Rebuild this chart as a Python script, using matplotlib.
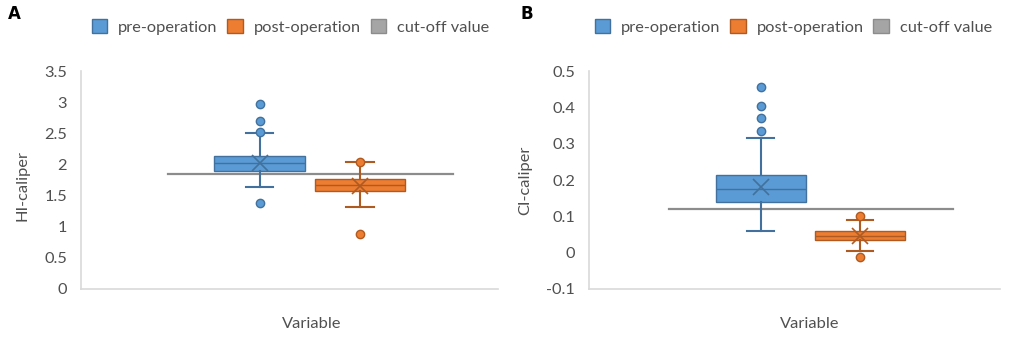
import matplotlib
matplotlib.use("Agg")
import matplotlib.pyplot as plt
from matplotlib.patches import Patch

plt.rcParams['font.family'] = ['Lato', 'DejaVu Sans']

# panel A: HI-caliper (q1, median, q3, whisker low/high, mean, outliers)
hi_pre = dict(q1=1.89, med=2.02, q3=2.14, whislo=1.64, whishi=2.50, mean=2.03,
              fliers=[2.97, 2.69, 2.52, 1.38])
hi_post = dict(q1=1.57, med=1.67, q3=1.76, whislo=1.32, whishi=2.04, mean=1.66,
               fliers=[2.04, 0.89])
hi_cutoff = 1.85

# panel B: CI-caliper
ci_pre = dict(q1=0.140, med=0.175, q3=0.214, whislo=0.060, whishi=0.316, mean=0.182,
              fliers=[0.455, 0.405, 0.370, 0.335])
ci_post = dict(q1=0.034, med=0.047, q3=0.060, whislo=0.004, whishi=0.089, mean=0.047,
               fliers=[0.101, -0.011])
ci_cutoff = 0.12

series_names = ['pre-operation', 'post-operation', 'cut-off value']
face_cols = ['#5b9bd5', '#ed7d31']
edge_cols = ['#41719c', '#ae5a21']
cut_col = '#8c8c8c'
txt_col = '#505050'
spine_col = '#d9d9d9'
fs = 11.8


def draw_panel(ax, stats, cutoff, pos, cut_span, ylim, yticks, ylabel):
    for s, p, fc, ec in zip(stats, pos, face_cols, edge_cols):
        st = dict(s)
        st['label'] = ''
        ax.bxp([st], positions=[p], widths=0.218, showmeans=True, patch_artist=True,
               boxprops=dict(facecolor=fc, edgecolor=ec, linewidth=1.0),
               medianprops=dict(color=ec, linewidth=1.0),
               whiskerprops=dict(color=ec, linewidth=1.5),
               capprops=dict(color=ec, linewidth=1.5),
               capwidths=0.065,
               meanprops=dict(marker='x', markeredgecolor=ec, markersize=11, markeredgewidth=1.2),
               flierprops=dict(marker='o', markerfacecolor=fc, markeredgecolor=ec,
                               markersize=6, markeredgewidth=1))
    ax.plot(cut_span, [cutoff, cutoff], color=cut_col, lw=1.6, zorder=1.5)
    ax.set_xlim(0, 1)
    ax.set_ylim(*ylim)
    ax.set_yticks(yticks)
    ax.set_yticklabels([('%g' % t) for t in yticks])
    ax.set_xticks([])
    for side in ['top', 'right']:
        ax.spines[side].set_visible(False)
    for side in ['left', 'bottom']:
        ax.spines[side].set_color(spine_col)
        ax.spines[side].set_linewidth(1.2)
    ax.tick_params(axis='y', length=0, pad=10, labelsize=fs, labelcolor=txt_col)
    ax.set_ylabel(ylabel, fontsize=fs, color=txt_col)
    ax.set_xlabel('Variable', fontsize=fs, color=txt_col)


fig = plt.figure(figsize=(10.21, 3.39), dpi=100)
axA = fig.add_axes([0.0793, 0.1475, 0.4085, 0.643])
axB = fig.add_axes([0.5769, 0.1475, 0.4026, 0.643])

draw_panel(axA, [hi_pre, hi_post], hi_cutoff, [0.429, 0.669], [0.209, 0.892],
           (0, 3.5), [0, 0.5, 1, 1.5, 2, 2.5, 3, 3.5], 'HI-caliper')
draw_panel(axB, [ci_pre, ci_post], ci_cutoff, [0.418, 0.659], [0.195, 0.886],
           (-0.1, 0.5), [-0.1, 0, 0.1, 0.2, 0.3, 0.4, 0.5], 'CI-caliper')

axA.yaxis.set_label_coords(-0.123, 0.477)
axB.yaxis.set_label_coords(-0.137, 0.5)
axA.xaxis.set_label_coords(0.554, -0.13)
axB.xaxis.set_label_coords(0.538, -0.13)

handles = [Patch(facecolor=face_cols[0], edgecolor=edge_cols[0]),
           Patch(facecolor=face_cols[1], edgecolor=edge_cols[1]),
           Patch(facecolor='#a5a5a5', edgecolor='#8c8c8c')]
for cx in [0.2845, 0.777]:
    leg = fig.legend(handles, series_names, loc='center', bbox_to_anchor=(cx, 0.921),
                     ncol=3, frameon=False, fontsize=fs, handlelength=0.95, handleheight=0.95,
                     handletextpad=0.65, columnspacing=0.6)
    for t in leg.get_texts():
        t.set_color(txt_col)

fig.text(0.0137, 0.959, 'A', fontsize=12, fontweight='bold', family='DejaVu Sans',
         ha='center', va='center')
fig.text(0.516, 0.959, 'B', fontsize=12, fontweight='bold', family='DejaVu Sans',
         ha='center', va='center')

fig.savefig('out.png', dpi=100)
